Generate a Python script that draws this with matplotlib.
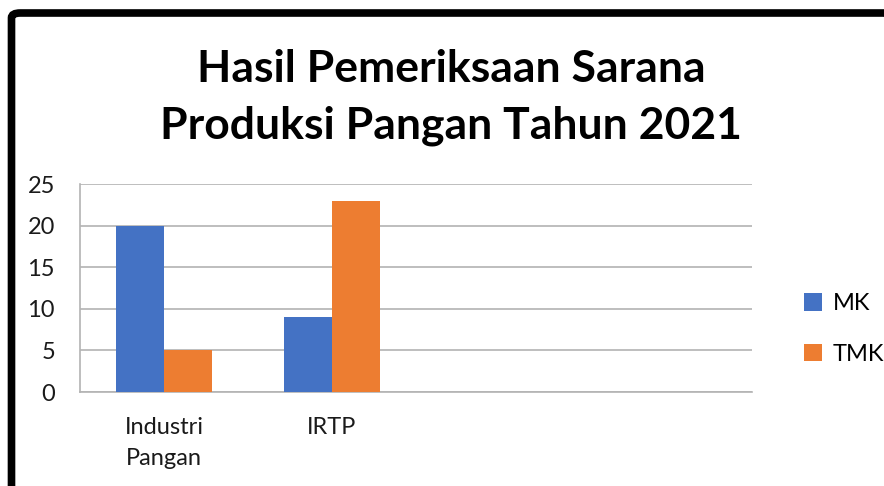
import numpy as np
import matplotlib.pyplot as plt
from matplotlib.patches import FancyBboxPatch

# data
categories = ["Industri\nPangan", "IRTP", "", ""]
mk = [20, 9, 0, 0]
tmk = [5, 23, 0, 0]
yticks = [0, 5, 10, 15, 20, 25]

blue = "#4472c4"
orange = "#ed7d31"
grid_c = "#b3b3b3"

plt.rcParams['font.family'] = ['Lato', 'DejaVu Sans']

fig = plt.figure(figsize=(8.84, 4.86), dpi=100)

# frame around the chart (cut off at right and bottom)
fig.patches.append(FancyBboxPatch((11.5 / 884, -0.2), 1.0, 1.2 - 13 / 486,
                                  boxstyle="round,pad=0,rounding_size=0.01",
                                  transform=fig.transFigure, fill=False,
                                  edgecolor="black", linewidth=5.5, zorder=10))

ax = fig.add_axes([80 / 884, 1 - 392 / 486, 672 / 884, 208 / 486])

x = np.arange(len(categories))
w = 0.285
ax.bar(x - w / 2, mk, w, color=blue, label="MK", zorder=3)
ax.bar(x + w / 2, tmk, w, color=orange, label="TMK", zorder=3)

ax.set_xlim(-0.5, len(categories) - 0.5)
ax.set_ylim(0, 25)
ax.set_yticks(yticks)
ax.set_xticks(x[:2])
ax.set_xticklabels(categories[:2], fontsize=17, color="#1a1a1a", linespacing=1.6)
ax.tick_params(axis='y', labelsize=17, labelcolor="#1a1a1a", length=0, pad=18)
ax.tick_params(axis='x', length=0, pad=18)
ax.grid(axis='y', color=grid_c, linewidth=1.2, zorder=0)
for s in ['top', 'right']:
    ax.spines[s].set_visible(False)
ax.spines['left'].set_color(grid_c)
ax.spines['bottom'].set_color(grid_c)
ax.spines['left'].set_linewidth(1.2)
ax.spines['bottom'].set_linewidth(1.2)

fig.legend(loc='upper left', bbox_to_anchor=(783 / 884, 1 - 272 / 486),
           frameon=False, fontsize=17, handlelength=0.75, handleheight=0.75,
           handletextpad=0.45, labelspacing=1.25)

fig.text(451 / 884, 1 - 97 / 486, "Hasil Pemeriksaan Sarana\nProduksi Pangan Tahun 2021",
         ha='center', va='center', fontsize=32, fontweight='bold',
         linespacing=1.5, color="black")

fig.savefig("out.png", dpi=100)
